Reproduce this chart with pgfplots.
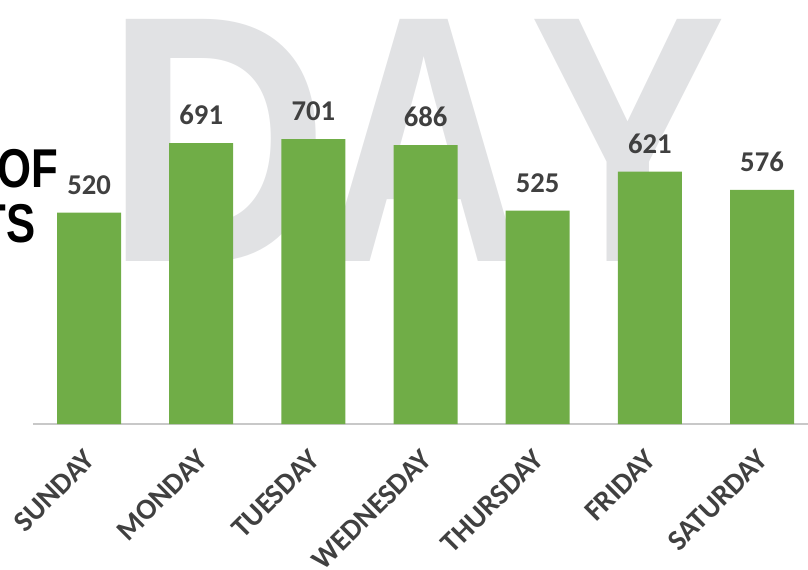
\documentclass[border=0pt]{standalone}
\usepackage{pgfplots}
\pgfplotsset{compat=1.18}
\usepackage{fontspec}
\setmainfont{Carlito}
\newfontfamily\heavy{Liberation Sans}

\definecolor{bargreen}{HTML}{70AD47}
\definecolor{labelgray}{HTML}{404040}
\definecolor{daygray}{HTML}{E1E2E4}
\definecolor{linegray}{HTML}{C8C8C8}

\newcommand{\bigletter}[2]{\heavy\bfseries\fontsize{264}{264}\selectfont\scalebox{#1}[1]{#2}}

\begin{document}
\begin{tikzpicture}
\path[use as bounding box, clip] (0pt,0pt) rectangle (606pt,426.75pt);
% big background word, one letter at a time
\node[anchor=base, inner sep=0pt, text=daygray] at (163pt,230.25pt) {\bigletter{0.88}{D}};
\node[anchor=base, inner sep=0pt, text=daygray] at (318.5pt,230.25pt) {\bigletter{0.80}{A}};
\node[anchor=base, inner sep=0pt, text=daygray] at (471pt,230.25pt) {\bigletter{0.84}{Y}};
% cut-off title at the left edge
\node[anchor=base east, inner sep=0pt] at (43.5pt,286.5pt)
  {\heavy\bfseries\fontsize{41}{41}\selectfont\scalebox{0.8}[1]{OF}};
\node[anchor=base east, inner sep=0pt] at (27pt,244.5pt)
  {\heavy\bfseries\fontsize{41}{41}\selectfont\scalebox{0.8}[1]{TS}};

\begin{axis}[
    at={(24.75pt,108.75pt)}, anchor=south west,
    scale only axis,
    width=581.25pt, height=318pt,
    xmin=-0.5, xmax=6.41,
    ymin=0, ymax=1043,
    axis y line=none,
    axis x line*=bottom,
    x axis line style={-, draw=linegray, line width=1pt},
    xtick=data,
    xticklabels={SUNDAY,MONDAY,TUESDAY,WEDNESDAY,THURSDAY,FRIDAY,SATURDAY},
    xtick style={draw=none},
    major tick length=0pt,
    xticklabel style={xshift=-4.5pt, yshift=-18pt, rotate=45, anchor=north east,
        inner sep=0pt, font=\bfseries\fontsize{22}{22}\selectfont, text=labelgray},
    /pgf/number format/assume math mode=true,
    ybar, bar width=48pt, bar shift=0pt,
    nodes near coords,
    every node near coord/.append style={anchor=south, inner sep=0pt,
        yshift=13.5pt, text=labelgray,
        font=\bfseries\fontsize{21.5}{21.5}\selectfont},
    clip=false,
]
\addplot[draw=none, fill=bargreen] coordinates {
    (0,520) (1,691) (2,701) (3,686) (4,525) (5,621) (6,576)
};
\end{axis}
\end{tikzpicture}
\end{document}
